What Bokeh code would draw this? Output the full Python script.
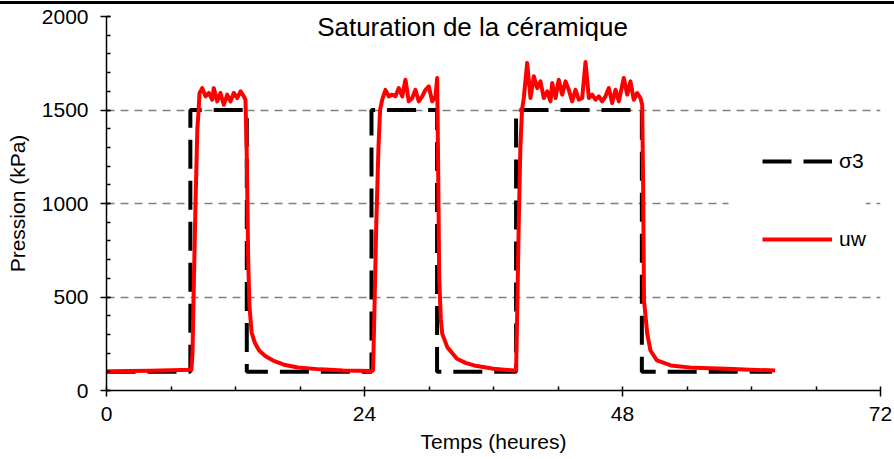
from bokeh.plotting import figure
from bokeh.models import Range1d, FixedTicker, Label, Legend, LegendItem, BoxAnnotation, Div
from bokeh.layouts import column
from bokeh.embed import file_html
from bokeh.resources import INLINE

FONT = "Liberation Sans"

# ---- data (hours, kPa) ----
sigma3_t = [0, 7.8, 7.8, 13.05, 13.05, 24.65, 24.65, 30.75, 30.75, 38.1, 38.1, 49.8, 49.8, 61.9]
sigma3_v = [100, 100, 1500, 1500, 100, 100, 1500, 1500, 100, 100, 1500, 1500, 100, 100]

uw_t = [0, 2, 4, 6, 7.9, 8.0, 8.1, 8.28, 8.45, 8.55, 8.65,
        8.9, 9.21, 9.52, 9.83, 9.98, 10.3, 10.6, 10.91, 11.23, 11.53, 11.84, 12.16, 12.47, 12.77, 12.93,
        13.05, 13.18, 13.3, 13.5, 13.8, 14.2, 14.8, 15.5, 16.5, 17.8, 19.9, 22.0, 24.7,
        24.8, 24.95, 25.1, 25.3, 25.45, 25.65, 25.95, 26.26, 26.58, 26.88, 27.19, 27.51, 27.81,
        28.12, 28.44, 28.74, 29.05, 29.37, 29.67, 29.98, 30.3, 30.6, 30.76,
        30.85, 30.95, 31.1, 31.23, 31.7, 32.6, 33.4, 34.2, 36.0, 37.9, 38.1,
        38.2, 38.35, 38.5, 38.65, 38.82, 39.13, 39.44, 39.75, 40.07, 40.37, 40.68, 41.0, 41.3,
        41.46, 41.77, 42.07, 42.39, 42.7, 43.0, 43.32, 43.63, 43.93, 44.25, 44.56, 44.87, 45.18,
        45.49, 45.8, 46.11, 46.42, 46.73, 47.04, 47.35, 47.66, 48.12, 48.44, 48.74, 49.05, 49.37,
        49.67, 49.83,
        49.92, 50.0, 50.3, 50.6, 51.2, 52.5, 54.6, 57.7, 59.9, 62.2]
uw_v = [102, 104, 106, 108, 111, 200, 500, 1000, 1400, 1480, 1590,
        1617, 1573, 1591, 1555, 1617, 1546, 1591, 1528, 1582, 1546, 1591, 1564, 1600, 1573, 1555,
        1250, 700, 450, 310, 255, 214, 183, 160, 138, 123, 113, 107, 104,
        110, 500, 900, 1300, 1500, 1555, 1608, 1573, 1582, 1573, 1617, 1573, 1662,
        1546, 1564, 1608, 1546, 1573, 1608, 1626, 1546, 1573, 1671,
        1200, 600, 380, 304, 232, 170, 148, 134, 116, 107, 108,
        400, 900, 1300, 1500, 1564, 1752, 1564, 1680, 1617, 1653, 1564, 1600, 1546,
        1644, 1564, 1662, 1582, 1653, 1608, 1546, 1608, 1555, 1564, 1757, 1564, 1582,
        1555, 1573, 1546, 1573, 1617, 1537, 1608, 1546, 1671, 1582, 1653, 1555, 1591,
        1564, 1528,
        1100, 483, 304, 214, 161, 134, 121, 116, 111, 107]

x_ticks = [0, 24, 48, 72]
x_minor = [6, 12, 18, 30, 36, 42, 54, 60, 66]
y_ticks = [0, 500, 1000, 1500, 2000]
y_grid = [500, 1000, 1500, 2000]
y_minor = [v for v in range(0, 2001, 100)]

title_text = "Saturation de la céramique"
x_label = "Temps (heures)"
y_label = "Pression (kPa)"

# thin black rule along the top edge of the original image
top_rule = Div(text="", width=894, height=4, margin=0,
               styles={"background": "linear-gradient(to bottom, white 0px, white 1px, black 1px, black 4px)"})

p = figure(width=894, height=455, output_backend="svg", toolbar_location=None,
           x_range=Range1d(0, 72), y_range=Range1d(0, 2000),
           min_border_left=106, min_border_right=14, min_border_top=12, min_border_bottom=69)
p.margin = 0
p.outline_line_color = None
p.background_fill_color = "white"
p.border_fill_color = "white"

p.xgrid.visible = False
g = p.ygrid[0]
g.ticker = FixedTicker(ticks=y_grid)
g.grid_line_color = "#808080"
g.grid_line_width = 1.5
g.grid_line_dash = "8 6"

for ax in (p.xaxis[0], p.yaxis[0]):
    ax.axis_line_color = "black"
    ax.axis_line_width = 1.5
    ax.major_tick_line_color = "black"
    ax.major_tick_line_width = 1.5
    ax.minor_tick_line_color = "black"
    ax.minor_tick_line_width = 1.5
    ax.major_tick_out = 6
    ax.major_tick_in = 4
    ax.minor_tick_out = 0
    ax.minor_tick_in = 4
    ax.major_label_text_font = FONT
    ax.major_label_text_font_size = "21px"
    ax.major_label_text_color = "black"
    ax.axis_label_text_font = FONT
    ax.axis_label_text_font_size = "21px"
    ax.axis_label_text_font_style = "normal"
    ax.axis_label_text_color = "black"

p.xaxis[0].ticker = FixedTicker(ticks=x_ticks, minor_ticks=x_minor)
p.yaxis[0].ticker = FixedTicker(ticks=y_ticks, minor_ticks=y_minor)
p.xaxis[0].axis_label = x_label
p.yaxis[0].axis_label = y_label
p.xaxis[0].major_label_standoff = 10
p.xaxis[0].axis_label_standoff = 6
p.yaxis[0].major_label_standoff = 12
p.yaxis[0].axis_label_standoff = 10

r_s = p.line(sigma3_t, sigma3_v, line_color="black", line_width=4, line_dash="29 12")
r_u = p.line(uw_t, uw_v, line_color="#ff0000", line_width=4, line_join="round")

# white area behind the legend (hides the grid line there, as in the original)
legend_bg = BoxAnnotation(left=622, right=680, bottom=120, top=270,
                          left_units="screen", right_units="screen",
                          bottom_units="screen", top_units="screen",
                          fill_color="white", fill_alpha=1.0, line_color=None)
p.add_layout(legend_bg)

legend = Legend(items=[LegendItem(label="σ3", renderers=[r_s]),
                       LegendItem(label="uw", renderers=[r_u])],
                location=(656, 139), orientation="vertical",
                glyph_width=70, glyph_height=24, label_height=24, spacing=54,
                padding=30, margin=0, label_standoff=7,
                border_line_color=None, background_fill_color="white", background_fill_alpha=1.0,
                label_text_font=FONT, label_text_font_size="21px", label_text_color="black")
p.add_layout(legend)

title = Label(x=366, y=364, x_units="screen", y_units="screen", text=title_text,
              text_align="center", text_baseline="alphabetic",
              text_font=FONT, text_font_size="26px", text_color="black",
              background_fill_color="white", background_fill_alpha=1.0, padding=5)
p.add_layout(title)

layout = column(top_rule, p, spacing=0)
open("out.html", "w").write(file_html(layout, INLINE))
